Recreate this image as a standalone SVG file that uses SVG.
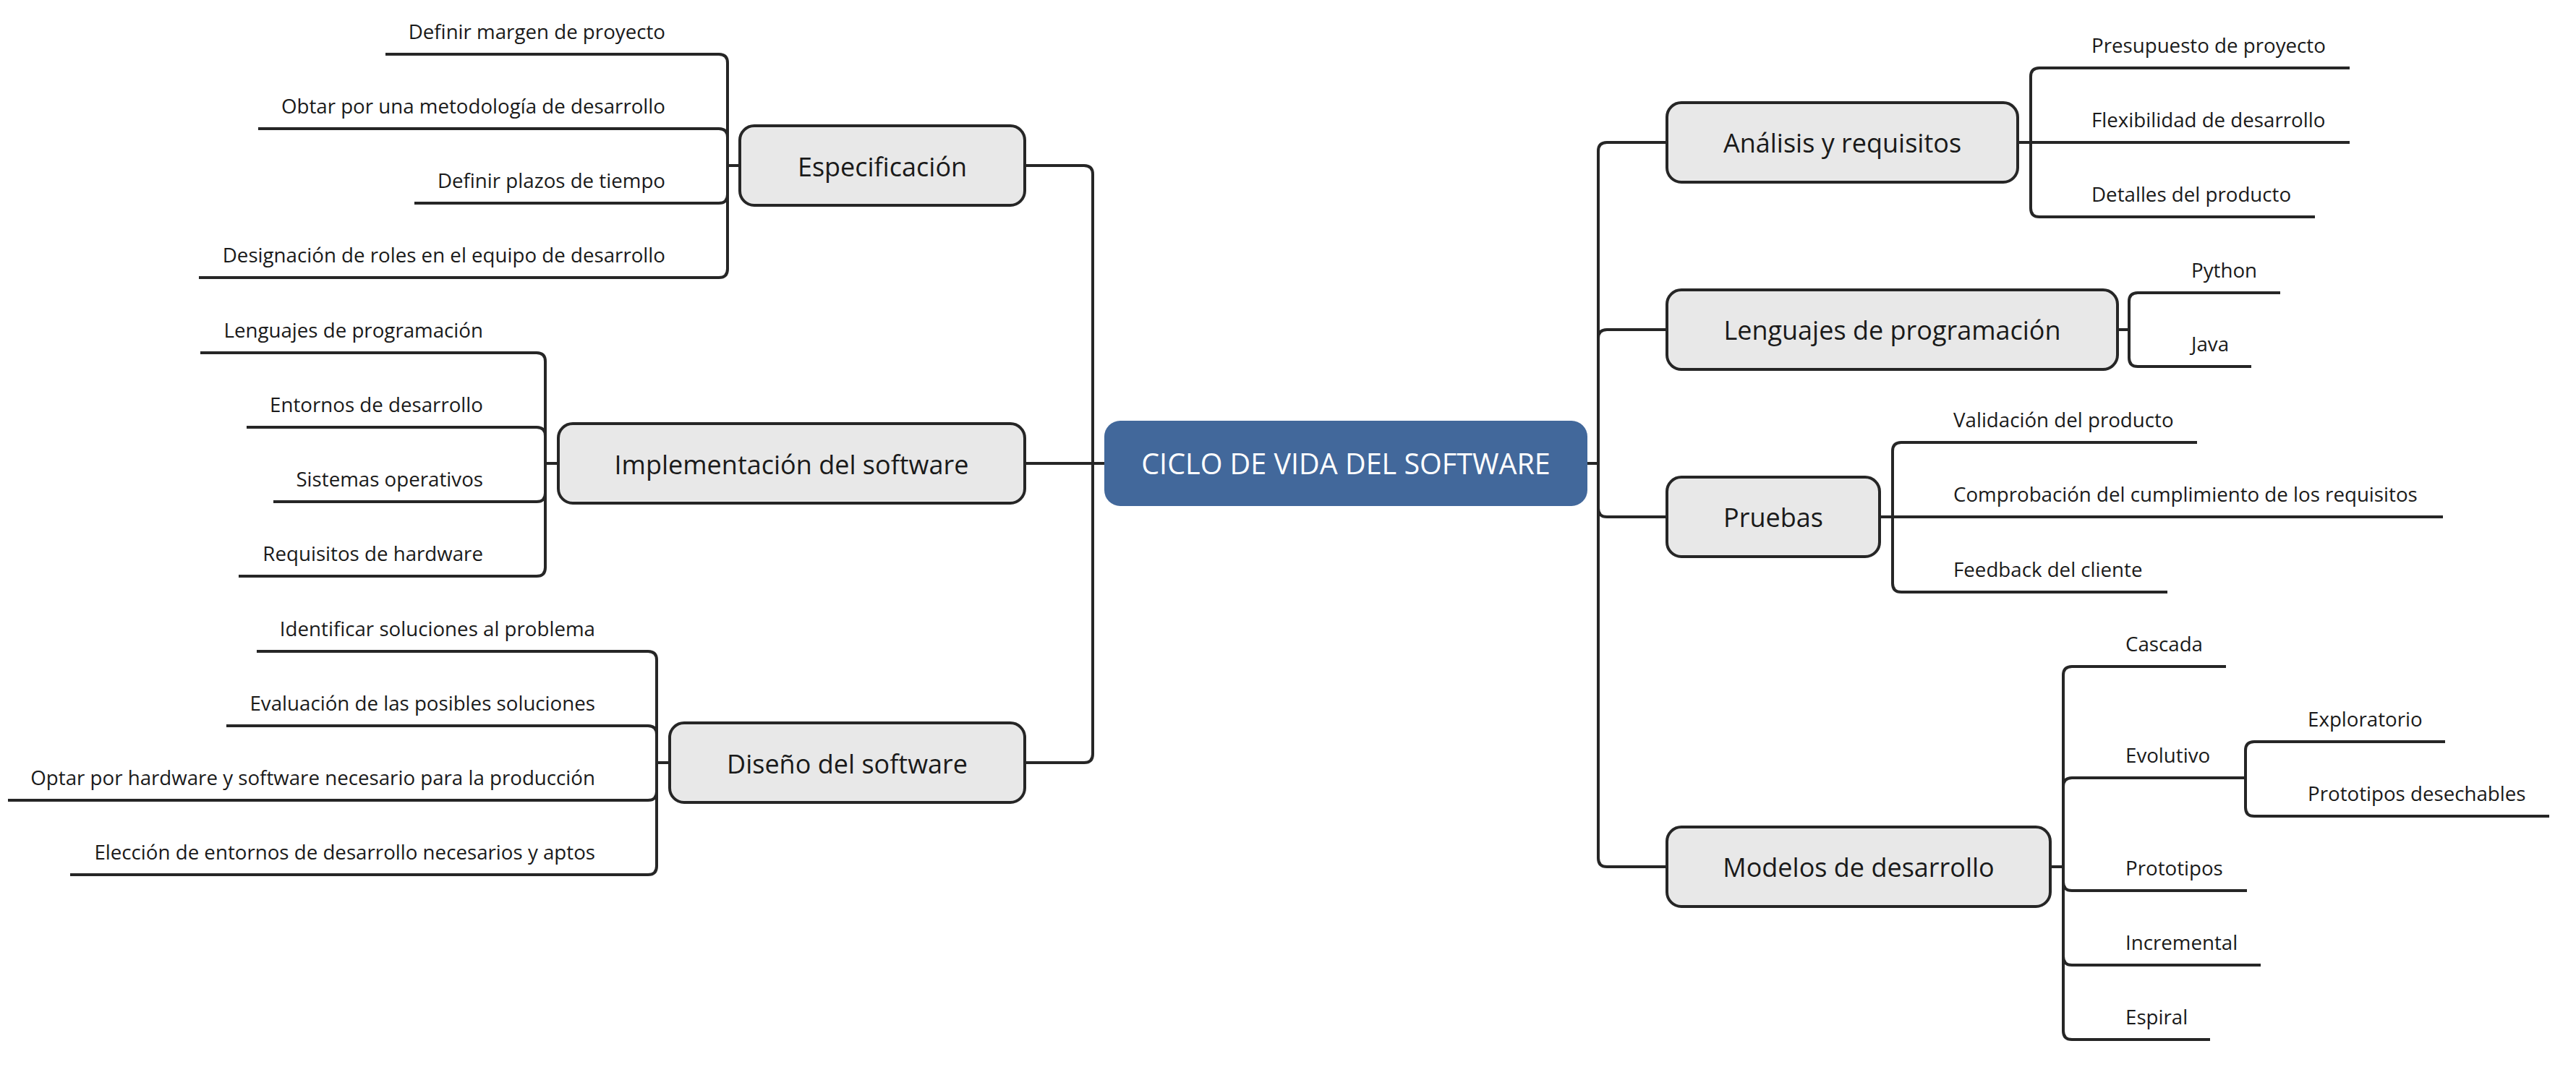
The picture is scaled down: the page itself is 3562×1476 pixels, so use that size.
<svg xmlns="http://www.w3.org/2000/svg" width="3562" height="1476" viewBox="0 0 3562 1476">
<style>
.bg{fill:#ffffff}
.node rect{fill:#e8e8e8;stroke:#262626;stroke-width:4}
.node text{font-family:"Open Sans","Noto Sans",sans-serif;font-size:36px;fill:#1a1a1a;text-anchor:middle}
.root rect{fill:#42689b;stroke:none}
.root text{font-family:"Open Sans","Noto Sans",sans-serif;font-size:39.5px;fill:#ffffff;text-anchor:middle}
.trunk path{fill:none;stroke:#262626;stroke-width:4}
.leafline{fill:none;stroke:#262626;stroke-width:4.5}
.lt{font-family:"Open Sans","Noto Sans",sans-serif;font-size:27.7px;fill:#1a1a1a}
.l{text-anchor:end}
.r{text-anchor:start}
</style>
<rect class="bg" x="0" y="0" width="3562" height="1476"/>
<g id="connectors" class="trunk">
<path d="M1527,641 H1417"/>
<path d="M1511,641 V241 Q1511,229 1499,229 H1417"/>
<path d="M1511,641 V1043 Q1511,1055 1499,1055 H1417"/>
<path d="M2194,641 H2210"/>
<path d="M2210,641 V209 Q2210,197 2222,197 H2305"/>
<path d="M2210,641 V468 Q2210,456 2222,456 H2305"/>
<path d="M2210,641 V703 Q2210,715 2222,715 H2305"/>
<path d="M2210,641 V1187 Q2210,1199 2222,1199 H2305"/>
<path class="leafline" d="M1023,229 H1006"/>
<path class="leafline" d="M1006,229 V87 Q1006,75 994,75 H533"/>
<path class="leafline" d="M1006,229 V190 Q1006,178 994,178 H357"/>
<path class="leafline" d="M1006,229 V269 Q1006,281 994,281 H573"/>
<path class="leafline" d="M1006,229 V372 Q1006,384 994,384 H275"/>
<path class="leafline" d="M772,641 H754"/>
<path class="leafline" d="M754,641 V500 Q754,488 742,488 H277"/>
<path class="leafline" d="M754,641 V603 Q754,591 742,591 H341"/>
<path class="leafline" d="M754,641 V682 Q754,694 742,694 H378"/>
<path class="leafline" d="M754,641 V785 Q754,797 742,797 H330"/>
<path class="leafline" d="M926,1055 H908"/>
<path class="leafline" d="M908,1055 V913 Q908,901 896,901 H355"/>
<path class="leafline" d="M908,1055 V1016 Q908,1004 896,1004 H313"/>
<path class="leafline" d="M908,1055 V1095 Q908,1107 896,1107 H11"/>
<path class="leafline" d="M908,1055 V1198 Q908,1210 896,1210 H97"/>
<path class="leafline" d="M2790,197 H2808"/>
<path class="leafline" d="M2808,197 V106 Q2808,94 2820,94 H3249"/>
<path class="leafline" d="M2808,197 H3249"/>
<path class="leafline" d="M2808,197 V288 Q2808,300 2820,300 H3201"/>
<path class="leafline" d="M2928,456 H2944"/>
<path class="leafline" d="M2944,456 V417 Q2944,405 2956,405 H3153"/>
<path class="leafline" d="M2944,456 V495 Q2944,507 2956,507 H3113"/>
<path class="leafline" d="M2599,715 H2617"/>
<path class="leafline" d="M2617,715 V624 Q2617,612 2629,612 H3038"/>
<path class="leafline" d="M2617,715 H3378"/>
<path class="leafline" d="M2617,715 V807 Q2617,819 2629,819 H2997"/>
<path class="leafline" d="M2835,1199 H2853"/>
<path class="leafline" d="M2853,1199 V934 Q2853,922 2865,922 H3078"/>
<path class="leafline" d="M2853,1199 V1088 Q2853,1076 2865,1076 H3105"/>
<path class="leafline" d="M2853,1199 V1220 Q2853,1232 2865,1232 H3107"/>
<path class="leafline" d="M2853,1199 V1323 Q2853,1335 2865,1335 H3126"/>
<path class="leafline" d="M2853,1199 V1426 Q2853,1438 2865,1438 H3056"/>
<path class="leafline" d="M3105,1076 V1038 Q3105,1026 3117,1026 H3381"/>
<path class="leafline" d="M3105,1076 V1117 Q3105,1129 3117,1129 H3525"/>
</g>
<g id="root" class="root">
<rect x="1527" y="582" width="668" height="118" rx="22"/>
<text x="1861" y="656">CICLO DE VIDA DEL SOFTWARE</text>
</g>
<g id="especificacion" class="node">
<rect x="1023" y="174" width="394" height="110" rx="20"/>
<text x="1220" y="244">Especificación</text>
</g>
<g id="implementacion" class="node">
<rect x="772" y="586" width="645" height="110" rx="20"/>
<text x="1094.5" y="656">Implementación del software</text>
</g>
<g id="diseno" class="node">
<rect x="926" y="1000" width="491" height="110" rx="20"/>
<text x="1171.5" y="1070">Diseño del software</text>
</g>
<g id="analisis" class="node">
<rect x="2305" y="142" width="485" height="110" rx="20"/>
<text x="2547.5" y="211">Análisis y requisitos</text>
</g>
<g id="lenguajes" class="node">
<rect x="2305" y="401" width="623" height="110" rx="20"/>
<text x="2616.5" y="470">Lenguajes de programación</text>
</g>
<g id="pruebas" class="node">
<rect x="2305" y="660" width="294" height="110" rx="20"/>
<text x="2452" y="729">Pruebas</text>
</g>
<g id="modelos" class="node">
<rect x="2305" y="1144" width="530" height="110" rx="20"/>
<text x="2570" y="1213">Modelos de desarrollo</text>
</g>
<g id="leaves-especificacion">
<text class="lt l" x="920" y="54">Definir margen de proyecto</text>
<text class="lt l" x="920" y="157">Obtar por una metodología de desarrollo</text>
<text class="lt l" x="920" y="260">Definir plazos de tiempo</text>
<text class="lt l" x="920" y="363">Designación de roles en el equipo de desarrollo</text>
</g>
<g id="leaves-implementacion">
<text class="lt l" x="668" y="467">Lenguajes de programación</text>
<text class="lt l" x="668" y="570">Entornos de desarrollo</text>
<text class="lt l" x="668" y="673">Sistemas operativos</text>
<text class="lt l" x="668" y="776">Requisitos de hardware</text>
</g>
<g id="leaves-diseno">
<text class="lt l" x="823" y="880">Identificar soluciones al problema</text>
<text class="lt l" x="823" y="983">Evaluación de las posibles soluciones</text>
<text class="lt l" x="823" y="1086">Optar por hardware y software necesario para la producción</text>
<text class="lt l" x="823" y="1189">Elección de entornos de desarrollo necesarios y aptos</text>
</g>
<g id="leaves-analisis">
<text class="lt r" x="2892" y="73">Presupuesto de proyecto</text>
<text class="lt r" x="2892" y="176">Flexibilidad de desarrollo</text>
<text class="lt r" x="2892" y="279">Detalles del producto</text>
</g>
<g id="leaves-lenguajes">
<text class="lt r" x="3030" y="384">Python</text>
<text class="lt r" x="3030" y="486">Java</text>
</g>
<g id="leaves-pruebas">
<text class="lt r" x="2701" y="591">Validación del producto</text>
<text class="lt r" x="2701" y="694">Comprobación del cumplimiento de los requisitos</text>
<text class="lt r" x="2701" y="798">Feedback del cliente</text>
</g>
<g id="leaves-modelos">
<text class="lt r" x="2939" y="901">Cascada</text>
<text class="lt r" x="2939" y="1055">Evolutivo</text>
<text class="lt r" x="2939" y="1211">Prototipos</text>
<text class="lt r" x="2939" y="1314">Incremental</text>
<text class="lt r" x="2939" y="1417">Espiral</text>
</g>
<g id="leaves-evolutivo">
<text class="lt r" x="3191" y="1005">Exploratorio</text>
<text class="lt r" x="3191" y="1108">Prototipos desechables</text>
</g>
</svg>
